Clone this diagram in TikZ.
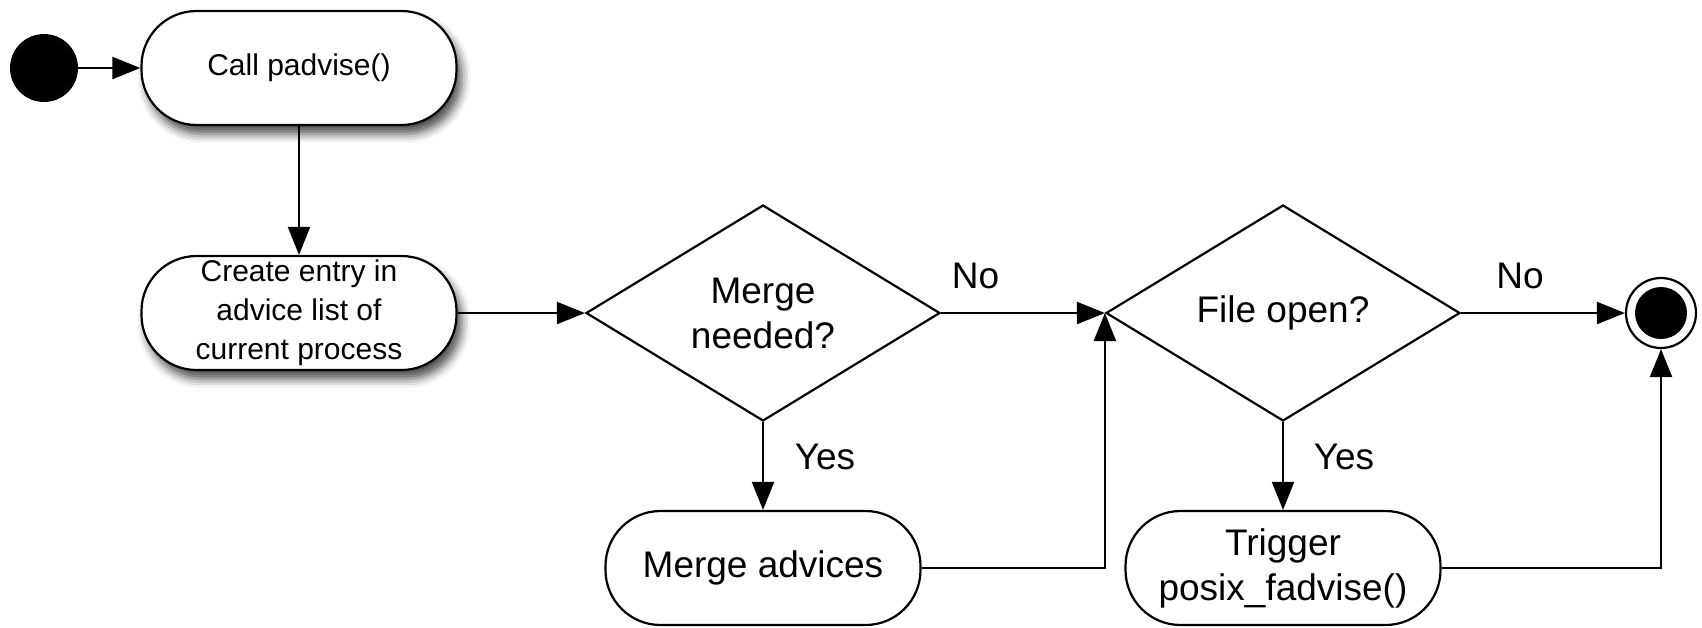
\documentclass[tikz,border=0pt]{standalone}
\usepackage{fontspec}
\setmainfont{Liberation Sans}
\usetikzlibrary{shapes.geometric,arrows.meta,shadows.blur}
\begin{document}
\begin{tikzpicture}[x=1pt,y=-1pt,
  lw/.style={line width=2.2pt},
  arr/.style={lw, -{Triangle[length=28pt,width=22pt]}},
  small/.style={font=\fontsize{30}{39}\selectfont},
  big/.style={font=\fontsize{37}{45}\selectfont},
  act/.style={draw, lw, rectangle, rounded corners=55pt, minimum width=315pt,
    minimum height=114pt, inner sep=0pt, align=center, fill=white},
  shadowed/.style={blur shadow={shadow xshift=5pt, shadow yshift=-9pt,
    shadow blur radius=9pt, shadow opacity=70}},
  decision/.style={draw, lw, diamond, minimum width=354pt, minimum height=216pt,
    inner sep=0pt, align=center, fill=white, big},
  lbl/.style={big, inner sep=0pt}]
\useasboundingbox (0,0) rectangle (1702,627);

% initial and final states
\node[circle, fill=black, minimum size=68pt, inner sep=0pt] (start) at (44,68) {};
\node[circle, draw, lw, minimum size=70pt, inner sep=0pt,
  path picture={\fill[black] (path picture bounding box.center) circle (26pt);}]
  (end) at (1661,313) {};

% actions
\node[act, shadowed, small] (call) at (299,68) {Call padvise()};
\node[act, shadowed, small] (create) at (299,313) {Create entry in\\advice list of\\current process};
\node[act, big] (madv) at (763,568) {Merge advices};
\node[act, big] (trig) at (1283,568) {Trigger\\posix\_fadvise()};

% decisions
\node[decision] (merge) at (763,313) {Merge\\needed?};
\node[decision] (file) at (1283,313) {File open?};

% control flow
\draw[arr] (start) -- (call);
\draw[arr] (call) -- (create);
\draw[arr] (create) -- (merge);
\draw[arr] (merge) -- node[lbl, pos=0.21, yshift=37pt] {No} (file);
\draw[arr] (merge) -- node[lbl, pos=0.4, xshift=62pt] {Yes} (madv);
\draw[arr] (madv) -| (file.west);
\draw[arr] (file) -- node[lbl, pos=0.36, yshift=37pt] {No} (end);
\draw[arr] (file) -- node[lbl, pos=0.4, xshift=61pt] {Yes} (trig);
\draw[arr] (trig) -| (end);
\end{tikzpicture}
\end{document}
